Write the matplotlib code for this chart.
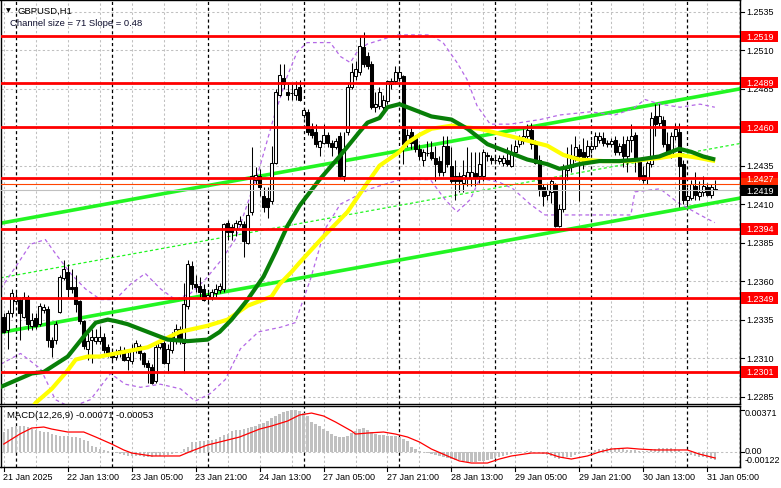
import numpy as np
import matplotlib
matplotlib.use("Agg")
import matplotlib.pyplot as plt
from matplotlib.patches import Rectangle

# ---------------- data ----------------
symbol_title = "GBPUSD,H1"
channel_text = "Channel size = 71 Slope = 0.48"
macd_text = "MACD(12,26,9) -0.00071 -0.00053"

opens = [1.2337, 1.2328, 1.2339, 1.2347, 1.2348, 1.2337, 1.2350, 1.2331, 1.2336, 1.2332,
         1.2341, 1.2342, 1.2322, 1.2322, 1.2340, 1.2362, 1.2366, 1.2356, 1.2356, 1.2347,
         1.2334, 1.2316, 1.2322, 1.2321, 1.2321, 1.2324, 1.2317, 1.2313, 1.2311, 1.2313,
         1.2315, 1.2309, 1.2308, 1.2315, 1.2318, 1.2313, 1.2307, 1.2304, 1.2295, 1.2317,
         1.2320, 1.2307, 1.2315, 1.2322, 1.2329, 1.2320, 1.2344, 1.2370, 1.2358, 1.2357,
         1.2355, 1.2349, 1.2350, 1.2352, 1.2354, 1.2355, 1.2398, 1.2395, 1.2394, 1.2397,
         1.2397, 1.2385, 1.2405, 1.2426, 1.2428, 1.2415, 1.2414, 1.2412, 1.2437, 1.2481,
         1.2492, 1.2483, 1.2482, 1.2481, 1.2486, 1.2468, 1.2470, 1.2459, 1.2457, 1.2447,
         1.2450, 1.2455, 1.2450, 1.2447, 1.2454, 1.2428, 1.2457, 1.2486, 1.2493, 1.2496,
         1.2512, 1.2506, 1.2501, 1.2473, 1.2474, 1.2473, 1.2477, 1.2488, 1.2490, 1.2492,
         1.2493, 1.2450, 1.2457, 1.2453, 1.2446, 1.2439, 1.2443, 1.2444, 1.2440, 1.2438,
         1.2431, 1.2448, 1.2435, 1.2428, 1.2428, 1.2424, 1.2427, 1.2427, 1.2430, 1.2428,
         1.2428, 1.2442, 1.2440, 1.2439, 1.2438, 1.2437, 1.2439, 1.2435, 1.2444, 1.2449,
         1.2451, 1.2454, 1.2458, 1.2449, 1.2439, 1.2421, 1.2416, 1.2418, 1.2423, 1.2396,
         1.2407, 1.2432, 1.2434, 1.2441, 1.2446, 1.2444, 1.2441, 1.2446, 1.2448, 1.2452,
         1.2453, 1.2449, 1.2449, 1.2452, 1.2444, 1.2449, 1.2441, 1.2452, 1.2455, 1.2438,
         1.2429, 1.2427, 1.2436, 1.2467, 1.2463, 1.2465, 1.2449, 1.2442, 1.2454, 1.2457,
         1.2436, 1.2413, 1.2414, 1.2422, 1.2415, 1.2418, 1.2421, 1.2416, 1.2420]
highs = [1.2339, 1.2341, 1.2355, 1.2353, 1.2350, 1.2353, 1.2351, 1.2339, 1.2339, 1.2346,
         1.2345, 1.2344, 1.2324, 1.2334, 1.2364, 1.2374, 1.2371, 1.2368, 1.2364, 1.2348,
         1.2335, 1.2326, 1.2329, 1.2329, 1.2331, 1.2326, 1.2319, 1.2316, 1.2316, 1.2318,
         1.2317, 1.2315, 1.2319, 1.2322, 1.2319, 1.2314, 1.2309, 1.2306, 1.2319, 1.2324,
         1.2322, 1.2319, 1.2327, 1.2332, 1.2331, 1.2359, 1.2374, 1.2373, 1.2364, 1.2363,
         1.2358, 1.2353, 1.2355, 1.2358, 1.2359, 1.2398, 1.2400, 1.2397, 1.2400, 1.2402,
         1.2399, 1.2411, 1.2447, 1.2434, 1.2433, 1.2421, 1.2421, 1.2448, 1.2485, 1.2501,
         1.2501, 1.2488, 1.2488, 1.2490, 1.2491, 1.2472, 1.2472, 1.2463, 1.2462, 1.2452,
         1.2462, 1.2457, 1.2452, 1.2453, 1.2457, 1.2457, 1.2488, 1.2502, 1.2503, 1.2519,
         1.2522, 1.2509, 1.2503, 1.2483, 1.2486, 1.2481, 1.2491, 1.2492, 1.2500, 1.2500,
         1.2494, 1.2459, 1.2460, 1.2455, 1.2449, 1.2446, 1.2451, 1.2451, 1.2448, 1.2441,
         1.2454, 1.2454, 1.2447, 1.2439, 1.2431, 1.2439, 1.2447, 1.2444, 1.2444, 1.2444,
         1.2446, 1.2444, 1.2442, 1.2442, 1.2442, 1.2442, 1.2447, 1.2449, 1.2452, 1.2455,
         1.2459, 1.2462, 1.2463, 1.2452, 1.2442, 1.2423, 1.2423, 1.2427, 1.2424, 1.2410,
         1.2436, 1.2447, 1.2449, 1.2454, 1.2449, 1.2453, 1.2452, 1.2452, 1.2457, 1.2457,
         1.2457, 1.2452, 1.2453, 1.2454, 1.2450, 1.2454, 1.2454, 1.2462, 1.2457, 1.2439,
         1.2435, 1.2438, 1.2470, 1.2475, 1.2475, 1.2467, 1.2457, 1.2457, 1.2463, 1.2463,
         1.2439, 1.2421, 1.2426, 1.2431, 1.2425, 1.2428, 1.2424, 1.2423, 1.2426]
lows = [1.2326, 1.2316, 1.2337, 1.2345, 1.2322, 1.2336, 1.2328, 1.2328, 1.2329, 1.2331,
        1.2339, 1.2317, 1.2311, 1.2319, 1.2339, 1.2361, 1.2350, 1.2352, 1.2340, 1.2332,
        1.2316, 1.2309, 1.2307, 1.2319, 1.2319, 1.2313, 1.2311, 1.2308, 1.2309, 1.2311,
        1.2308, 1.2302, 1.2306, 1.2313, 1.2309, 1.2304, 1.2294, 1.2293, 1.2294, 1.2316,
        1.2306, 1.2300, 1.2313, 1.2319, 1.2319, 1.2300, 1.2342, 1.2355, 1.2353, 1.2350,
        1.2347, 1.2346, 1.2348, 1.2350, 1.2352, 1.2353, 1.2387, 1.2387, 1.2389, 1.2396,
        1.2376, 1.2384, 1.2403, 1.2423, 1.2415, 1.2405, 1.2401, 1.2410, 1.2436, 1.2480,
        1.2485, 1.2478, 1.2478, 1.2478, 1.2477, 1.2466, 1.2455, 1.2453, 1.2447, 1.2441,
        1.2449, 1.2447, 1.2441, 1.2446, 1.2427, 1.2425, 1.2455, 1.2485, 1.2491, 1.2494,
        1.2499, 1.2498, 1.2472, 1.2470, 1.2472, 1.2470, 1.2475, 1.2485, 1.2488, 1.2490,
        1.2436, 1.2447, 1.2446, 1.2444, 1.2439, 1.2435, 1.2441, 1.2439, 1.2425, 1.2428,
        1.2428, 1.2434, 1.2424, 1.2413, 1.2418, 1.2418, 1.2422, 1.2422, 1.2422, 1.2424,
        1.2425, 1.2438, 1.2436, 1.2436, 1.2436, 1.2435, 1.2435, 1.2434, 1.2442, 1.2447,
        1.2449, 1.2452, 1.2446, 1.2436, 1.2415, 1.2409, 1.2413, 1.2411, 1.2395, 1.2395,
        1.2405, 1.2426, 1.2431, 1.2438, 1.2412, 1.2433, 1.2439, 1.2443, 1.2446, 1.2450,
        1.2448, 1.2447, 1.2447, 1.2442, 1.2442, 1.2434, 1.2431, 1.2444, 1.2431, 1.2426,
        1.2424, 1.2423, 1.2434, 1.2454, 1.2461, 1.2447, 1.2441, 1.2440, 1.2452, 1.2408,
        1.2410, 1.2409, 1.2413, 1.2413, 1.2413, 1.2415, 1.2415, 1.2414, 1.2419]
closes = [1.2327, 1.2339, 1.2352, 1.2350, 1.2339, 1.2350, 1.2332, 1.2335, 1.2331, 1.2344,
          1.2343, 1.2322, 1.2317, 1.2332, 1.2363, 1.2368, 1.2355, 1.2355, 1.2345, 1.2334,
          1.2318, 1.2321, 1.2324, 1.2324, 1.2324, 1.2315, 1.2312, 1.2311, 1.2313, 1.2315,
          1.2309, 1.2311, 1.2315, 1.2320, 1.2313, 1.2306, 1.2304, 1.2294, 1.2317, 1.2320,
          1.2307, 1.2316, 1.2324, 1.2329, 1.2321, 1.2345, 1.2371, 1.2358, 1.2356, 1.2353,
          1.2348, 1.2351, 1.2353, 1.2355, 1.2357, 1.2397, 1.2392, 1.2392, 1.2398, 1.2399,
          1.2386, 1.2403, 1.2428, 1.2429, 1.2421, 1.2408, 1.2408, 1.2437, 1.2483, 1.2494,
          1.2488, 1.2481, 1.2482, 1.2485, 1.2478, 1.2471, 1.2457, 1.2455, 1.2449, 1.2451,
          1.2455, 1.2450, 1.2447, 1.2451, 1.2428, 1.2446, 1.2486, 1.2496, 1.2498, 1.2513,
          1.2501, 1.2500, 1.2473, 1.2475, 1.2483, 1.2478, 1.2490, 1.2490, 1.2496, 1.2496,
          1.2449, 1.2455, 1.2450, 1.2446, 1.2441, 1.2444, 1.2443, 1.2440, 1.2436, 1.2431,
          1.2448, 1.2436, 1.2425, 1.2425, 1.2425, 1.2429, 1.2431, 1.2431, 1.2427, 1.2436,
          1.2444, 1.2441, 1.2439, 1.2439, 1.2440, 1.2440, 1.2436, 1.2444, 1.2448, 1.2453,
          1.2454, 1.2458, 1.2449, 1.2437, 1.2420, 1.2415, 1.2419, 1.2425, 1.2396, 1.2407,
          1.2434, 1.2435, 1.2441, 1.2447, 1.2441, 1.2438, 1.2448, 1.2448, 1.2454, 1.2454,
          1.2450, 1.2450, 1.2451, 1.2444, 1.2448, 1.2441, 1.2452, 1.2454, 1.2438, 1.2427,
          1.2426, 1.2437, 1.2466, 1.2462, 1.2467, 1.2449, 1.2442, 1.2454, 1.2459, 1.2435,
          1.2413, 1.2415, 1.2423, 1.2416, 1.2418, 1.2422, 1.2416, 1.2421, 1.2419]

date_labels = ["21 Jan 2025", "22 Jan 13:00", "23 Jan 05:00", "23 Jan 21:00",
               "24 Jan 13:00", "27 Jan 05:00", "27 Jan 21:00", "28 Jan 13:00",
               "29 Jan 05:00", "29 Jan 21:00", "30 Jan 13:00", "31 Jan 05:00"]
date_label_bars = [0, 16, 32, 48, 64, 80, 96, 112, 128, 144, 160, 176]
day_start_bars = [3, 27, 51, 75, 99, 123, 147, 171]

price_ticks = [1.2535, 1.2510, 1.2485, 1.2435, 1.2410, 1.2385,
               1.2360, 1.2335, 1.2310, 1.2285]
levels = [1.2519, 1.2489, 1.2460, 1.2427, 1.2394, 1.2349, 1.2301]
ask_price = 1.2423
bid_price = 1.2419

# moving averages (bar index, price)
green_ma_idx = [-1, 7, 10, 16, 20, 23, 26, 28, 31, 34, 36, 41, 46, 51, 54, 57, 61, 65, 68,
                71, 74, 79, 84, 89, 91, 94, 96, 99, 101, 104, 107, 112, 116, 121, 126,
                131, 136, 139, 141, 144, 149, 154, 159, 164, 169, 172, 175, 178]
green_ma_val = [1.2291, 1.2300, 1.2301, 1.2311, 1.2324, 1.2333, 1.2335, 1.2334, 1.2332,
                1.2329, 1.2327, 1.2322, 1.2321, 1.2322, 1.2327, 1.2335, 1.2348, 1.2363,
                1.2379, 1.2396, 1.2409, 1.2426, 1.2441, 1.2457, 1.2463, 1.2466, 1.2473,
                1.2475, 1.2473, 1.2470, 1.2467, 1.2465, 1.2459, 1.2449, 1.2444, 1.2439,
                1.2436, 1.2433, 1.2434, 1.2436, 1.2438, 1.2438, 1.2439, 1.2441, 1.2446,
                1.2444, 1.2441, 1.2439]
yellow_ma_idx = [6, 8, 12, 16, 18, 21, 24, 28, 32, 36, 44, 51, 56, 61, 64, 67, 69, 72, 74,
                 80, 86, 91, 94, 99, 101, 104, 107, 112, 119, 127, 136, 140, 144, 150,
                 157, 164, 169, 174, 178]
yellow_ma_val = [1.2274, 1.2281, 1.2290, 1.2302, 1.2309, 1.2311, 1.2311, 1.2313, 1.2315,
                 1.2317, 1.2327, 1.2331, 1.2335, 1.2344, 1.2347, 1.2350, 1.2358, 1.2366,
                 1.2372, 1.2389, 1.2405, 1.2424, 1.2435, 1.2444, 1.2450, 1.2455, 1.2459,
                 1.2461, 1.2459, 1.2454, 1.2448, 1.2442, 1.2439, 1.2438, 1.2438, 1.2440,
                 1.2442, 1.2440, 1.2438]

# envelope bands (purple dashed)
upper_band_idx = [-0.8, 2.9, 6.7, 10.4, 12.9, 16.7, 20.4, 24.2, 27.9, 31.7, 35.4, 39.2,
                  42.9, 46.7, 50.4, 54.2, 57.9, 63.7, 67.4, 70.9, 73.4, 75.9, 81.7, 84.2,
                  86.7, 88.4, 90.9, 98.4, 106.7, 109.9, 113.4, 115.9, 118.4, 121.7, 126.7,
                  134.2, 139.2, 146.7, 152.9, 157.4, 160.4, 164.2, 169.2, 174.2, 177.9]
upper_band_val = [1.2355, 1.2369, 1.2384, 1.2387, 1.2378, 1.2365, 1.2355, 1.2348, 1.2348,
                  1.2358, 1.2365, 1.2355, 1.2348, 1.2352, 1.2361, 1.2373, 1.2387, 1.2431,
                  1.2465, 1.2493, 1.2509, 1.2515, 1.2515, 1.2506, 1.2502, 1.2509, 1.2514,
                  1.2520, 1.2520, 1.2515, 1.2502, 1.2491, 1.2474, 1.2462, 1.2462, 1.2465,
                  1.2468, 1.2470, 1.2468, 1.2472, 1.2478, 1.2475, 1.2473, 1.2475, 1.2473]
lower_band_idx = [-0.8, 4.2, 9.2, 12.9, 16.7, 21.7, 26.7, 30.4, 34.2, 39.2, 44.2, 47.9,
                  51.7, 55.4, 59.2, 63.7, 69.2, 72.9, 76.7, 80.4, 84.2, 91.7, 99.2, 106.7,
                  110.4, 113.4, 116.7, 119.2, 124.2, 127.4, 131.7, 135.4, 139.9, 149.2,
                  156.9, 157.9, 164.2, 168.7, 174.2, 177.9]
lower_band_val = [1.2306, 1.2313, 1.2303, 1.2283, 1.2278, 1.2283, 1.2300, 1.2293, 1.2291,
                  1.2293, 1.2290, 1.2282, 1.2287, 1.2296, 1.2316, 1.2327, 1.2330, 1.2333,
                  1.2361, 1.2394, 1.2410, 1.2420, 1.2426, 1.2426, 1.2413, 1.2405, 1.2413,
                  1.2427, 1.2424, 1.2420, 1.2410, 1.2403, 1.2403, 1.2403, 1.2403, 1.2418,
                  1.2420, 1.2411, 1.2403, 1.2398]

# regression channel (values at bar 0 and bar 178)
chan_bars = [0, 178]
chan_lower = [1.2327, 1.2411]
chan_upper = [1.2398, 1.2482]
chan_mid = [1.23625, 1.24465]

# MACD histogram (units of 0.00001), one per bar
macd_hist = [176, 202, 220, 229, 229, 229, 220, 202, 194, 185,
             176, 176, 158, 150, 141, 141, 141, 132, 132, 123,
             106, 97, 53, 44, 26, 18, 9, 0, -9, -18,
             -26, -35, -35, -35, -35, -44, -44, -44, -35, -35,
             -26, -26, -18, -9, 0, 26, 44, 88, 88, 97,
             97, 106, 106, 114, 132, 150, 158, 185, 194, 194,
             202, 211, 220, 229, 246, 255, 273, 299, 317, 334,
             352, 361, 370, 370, 361, 343, 317, 264, 246, 229,
             202, 185, 158, 141, 132, 132, 141, 167, 185, 202,
             211, 194, 176, 158, 150, 150, 141, 141, 141, 132,
             114, 97, 44, 26, 9, 0, -9, -18, -26, -35,
             -44, -53, -62, -70, -70, -79, -88, -88, -88, -79,
             -79, -70, -62, -53, -44, -35, -26, -18, -9, -9,
             0, 9, 9, 0, -9, -18, -26, -35, -53, -62,
             -53, -44, -44, -26, -18, -9, 0, 0, 18, 26,
             26, 35, 35, 35, 26, 26, 18, 18, 18, 9,
             9, 9, 26, 26, 35, 35, 35, 35, 26, 18,
             0, -18, -26, -35, -44, -44, -53, -62, -71]
signal_idx = [0, 4, 7, 10, 12, 16, 20, 23, 27, 30, 32, 37, 39, 44, 47, 51, 54, 59, 64,
              67, 71, 74, 77, 80, 83, 87, 88, 91, 95, 98, 101, 104, 107, 111, 114, 117,
              121, 124, 127, 132, 136, 139, 142, 146, 149, 152, 156, 159, 163, 167, 171,
              174, 178]
signal_val = [70, 158, 211, 220, 202, 176, 176, 132, 70, 18, -9, -35, -35, -35, 9, 62,
              88, 132, 202, 229, 273, 326, 343, 317, 264, 185, 158, 167, 176, 158, 132,
              88, 26, -35, -79, -97, -97, -62, -35, -9, -9, -44, -62, -35, 0, 26, 35, 26,
              18, 18, 18, -18, -53]
macd_tick_labels = ["0.00371", "0.00", "-0.00122"]

# ---------------- drawing ----------------
W, H = 781, 489
fig = plt.figure(figsize=(W / 100, H / 100), dpi=100)
fig.patch.set_facecolor("white")
FONT = ["Liberation Sans", "DejaVu Sans"]
FS = 6.5      # axis labels
FT = 6.8      # title lines

def px_axes(x0, y0, x1, y1):
    return fig.add_axes([x0 / W, 1 - y1 / H, (x1 - x0) / W, (y1 - y0) / H])

ax = px_axes(0.5, 0.5, 740, 405)
mx = px_axes(0.5, 407, 740, 468)
XL = (-0.825, 184.2)
PX = 0.0000649  # price per pixel
ax.set_xlim(*XL)
ax.set_ylim(1.2543 - 405 * PX, 1.2543)
mx.set_xlim(*XL)
mx.set_ylim(-0.00132, 0.00405)
for a in (ax, mx):
    a.set_xticks([]); a.set_yticks([])
    for s in a.spines.values():
        s.set_color("black"); s.set_linewidth(1.0)
    a.set_facecolor("white")

grid_kw = dict(color="#c0c0c0", lw=0.75, dashes=(2.2, 2.2), zorder=0)
for p in price_ticks:
    ax.axhline(p, **grid_kw)
ax.axhline(1.2460, **grid_kw)
for k in range(0, 185, 8):
    ax.axvline(k, **grid_kw)
    mx.axvline(k, **grid_kw)
mx.axhline(0, **grid_kw)
sep_kw = dict(color="black", lw=0.9, dashes=(2.5, 2.2), zorder=1)
for b in day_start_bars:
    ax.axvline(b, **sep_kw)
    mx.axvline(b, **sep_kw)

# channel
ax.axline((chan_bars[0], chan_lower[0]), (chan_bars[1], chan_lower[1]), color="#22f522", lw=2.6, zorder=2)
ax.axline((chan_bars[0], chan_upper[0]), (chan_bars[1], chan_upper[1]), color="#22f522", lw=2.6, zorder=2)
ax.axline((chan_bars[0], chan_mid[0]), (chan_bars[1], chan_mid[1]), color="#22f522", lw=0.9,
          dashes=(2.5, 2), zorder=2)

# bands
band_kw = dict(color="#b468e6", lw=0.9, dashes=(3, 2.5), zorder=2)
ax.plot(upper_band_idx, upper_band_val, **band_kw)
ax.plot(lower_band_idx, lower_band_val, **band_kw)

# candles
o = np.array(opens); h = np.array(highs); l = np.array(lows); c = np.array(closes)
idx = np.arange(len(o))
ax.vlines(idx, l, h, color="black", lw=0.75, zorder=3)
up = c >= o
ax.bar(idx[up], (c - o)[up], bottom=o[up], width=0.68, facecolor="white",
       edgecolor="black", linewidth=0.75, zorder=4)
ax.bar(idx[~up], (o - c)[~up], bottom=c[~up], width=0.68, facecolor="black",
       edgecolor="black", linewidth=0.75, zorder=4)

# moving averages
ax.plot(yellow_ma_idx, yellow_ma_val, color="#ffff00", lw=3.0, zorder=5, solid_capstyle="butt")
ax.plot(green_ma_idx, green_ma_val, color="#087f08", lw=3.0, zorder=5, solid_capstyle="butt")

# levels
for lv in levels:
    ax.axhline(lv, color="#ff0000", lw=2.0, zorder=6)
ax.axhline(ask_price, color="#ff4500", lw=0.8, zorder=6)
ax.axhline(bid_price, color="#c0c0c0", lw=0.8, zorder=6)

# right price axis
yt = ax.get_yaxis_transform()
for p in price_ticks:
    ax.plot([1.0, 1.0 + 4 / 740], [p, p], transform=yt, color="black", lw=0.8, clip_on=False)
    ax.text(1.0 + 6 / 740, p, f"{p:.4f}", transform=yt, ha="left", va="center",
            fontsize=FS, family=FONT, color="black", zorder=7, clip_on=False)

def price_box(p, face, z, label=True):
    ax.add_patch(Rectangle((1.0 + 1.5 / 740, p - 5.8 * PX), 37 / 740, 11.6 * PX, transform=yt,
                           facecolor=face, edgecolor="none", clip_on=False, zorder=z))
    if label:
        ax.text(1.0 + 6 / 740, p, f"{p:.4f}", transform=yt, ha="left", va="center",
                fontsize=FS, family=FONT, color="white", zorder=z + 0.5, clip_on=False)

for lv in levels:
    price_box(lv, "#ff0000", 8)
price_box(ask_price, "#ff2a00", 8, label=False)
price_box(bid_price, "#000000", 9)

# MACD
hist = np.array(macd_hist) * 1e-5
mx.bar(idx, hist, width=0.55, color="#c0c0c0", zorder=2)
mx.plot(signal_idx, np.array(signal_val) * 1e-5, color="#ff0000", lw=0.9, zorder=3)
mx.text(7 / 740, (468 - 416) / 61, macd_text, transform=mx.transAxes, ha="left", va="center",
        fontsize=FT, family=FONT, color="black")
for lab, ypx in zip(macd_tick_labels, [414, 452, 461]):
    mx.text(1.0 + 4.5 / 740, (468 - ypx) / 61, lab, transform=mx.transAxes, ha="left",
            va="center", fontsize=FS, family=FONT, color="black", clip_on=False)
mt = mx.get_yaxis_transform()
for v in [0.00371, 0.0]:
    mx.plot([1.0, 1.0 + 4 / 740], [v, v], transform=mt, color="black", lw=0.8, clip_on=False)

# date axis
xt = mx.get_xaxis_transform()
for b, lab in zip(date_label_bars, date_labels):
    mx.plot([b, b], [0, -4 / 61], transform=xt, color="black", lw=0.8, clip_on=False)
    mx.text(b - 0.15, -9.5 / 61, lab, transform=xt, ha="left", va="center",
            fontsize=FS, family=FONT, color="black", clip_on=False)

# title
fig.text(6 / W, 1 - 11 / H, "\u25bc", fontsize=4.5, family="DejaVu Sans", va="center", ha="left")
fig.text(18 / W, 1 - 11 / H, symbol_title, fontsize=FT, family=FONT, va="center", ha="left")
fig.text(10.5 / W, 1 - 23.5 / H, channel_text, fontsize=FT, family=FONT, va="center",
         ha="left", color="#101030")

fig.savefig("out.png", dpi=100, facecolor="white")
